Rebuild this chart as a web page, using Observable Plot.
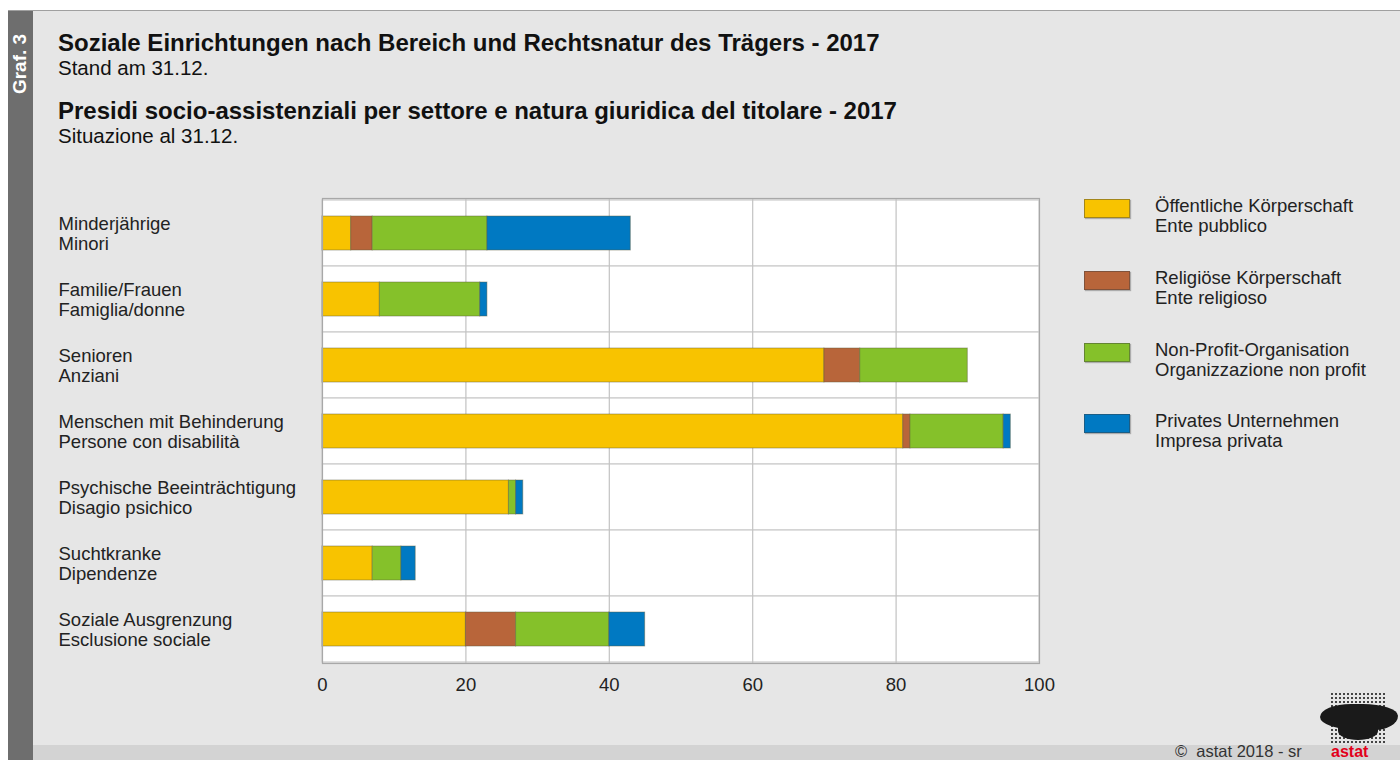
<!DOCTYPE html>
<html>
<head>
<meta charset="utf-8">
<script src="https://cdn.jsdelivr.net/npm/d3@7"></script>
<script src="https://cdn.jsdelivr.net/npm/@observablehq/plot@0.6"></script>
<style>
  html, body { margin: 0; padding: 0; }
  body { width: 1400px; height: 760px; overflow: hidden; background: #ffffff; font-family: "Liberation Sans", Arial, sans-serif; }
  #page { position: absolute; left: 0; top: 0; width: 1400px; height: 760px; }
  #bg { position: absolute; left: 8px; top: 10px; width: 1392px; height: 750px; background: #e6e6e6; border-top: 1px solid #a0a0a0; box-sizing: border-box; }
  #strip { position: absolute; left: 8px; top: 11px; width: 25px; height: 749px; background: #6e6e6e; }
  #graf { position: absolute; left: 20px; top: 64px; transform: translate(-50%, -50%) rotate(-90deg); color: #ffffff; font-weight: bold; font-size: 19px; white-space: nowrap; }
  .t { position: absolute; left: 58px; color: #111; white-space: nowrap; }
  .tb { font-weight: bold; font-size: 24px; line-height: 26px; }
  .ts { font-size: 20.5px; line-height: 22px; }
  #chart { position: absolute; left: 0; top: 170px; }
  .leg { position: absolute; left: 1084px; }
  .sw { position: absolute; left: 0; top: 0; width: 46px; height: 19px; box-sizing: border-box; border: 1px solid rgba(60,60,60,0.45); box-shadow: 1px 1px 1px rgba(0,0,0,0.25); }
  .lt { position: absolute; left: 71px; top: -3px; font-size: 18.5px; line-height: 20px; color: #222; white-space: nowrap; }
  #footer { position: absolute; left: 33px; top: 745px; width: 1367px; height: 15px; background: #d3d3d3; }
  #copy { position: absolute; left: 1175px; top: 743px; font-size: 16.5px; line-height: 17px; color: #333; white-space: nowrap; }
  #astat { position: absolute; left: 1331px; top: 743px; font-size: 16px; line-height: 17px; font-weight: bold; color: #e2001a; }
  #logo { position: absolute; left: 1330px; top: 692px; width: 56px; height: 52px;
          background-image: radial-gradient(circle, #444 1px, transparent 1.3px); background-size: 4px 4px; }
  #blob { position: absolute; left: 1320px; top: 704px; width: 78px; height: 26px; background: #1a1a1a;
          border-radius: 40% 45% 30% 50% / 50% 45% 55% 50%; }
  #blob2 { position: absolute; left: 1338px; top: 722px; width: 40px; height: 18px; background: #1a1a1a; border-radius: 0 0 50% 50%; }
</style>
</head>
<body>
<div id="page">
  <div id="bg"></div>
  <div id="strip"></div>
  <div id="graf">Graf. 3</div>
  <div class="t tb" style="top:30px">Soziale Einrichtungen nach Bereich und Rechtsnatur des Trägers - 2017</div>
  <div class="t ts" style="top:57px">Stand am 31.12.</div>
  <div class="t tb" style="top:98px">Presidi socio-assistenziali per settore e natura giuridica del titolare - 2017</div>
  <div class="t ts" style="top:125px">Situazione al 31.12.</div>
  <div id="chart"></div>
  <div id="legend"></div>
  <div id="footer"></div>
  <div id="logo"></div>
  <div id="blob"></div>
  <div id="blob2"></div>
  <div id="copy">©&nbsp; astat 2018 - sr</div>
  <div id="astat">astat</div>
</div>
<script>
// ---- data ----
const categories = [
  "Minderjährige\nMinori",
  "Familie/Frauen\nFamiglia/donne",
  "Senioren\nAnziani",
  "Menschen mit Behinderung\nPersone con disabilità",
  "Psychische Beeinträchtigung\nDisagio psichico",
  "Suchtkranke\nDipendenze",
  "Soziale Ausgrenzung\nEsclusione sociale"
];
const traeger = [
  "Öffentliche Körperschaft\nEnte pubblico",
  "Religiöse Körperschaft\nEnte religioso",
  "Non-Profit-Organisation\nOrganizzazione non profit",
  "Privates Unternehmen\nImpresa privata"
];
const oeffentlich = [4, 8, 70, 81, 26, 7, 20];
const religioes   = [3, 0, 5, 1, 0, 0, 7];
const nonprofit   = [16, 14, 15, 13, 1, 4, 13];
const privat      = [20, 1, 0, 1, 1, 2, 5];
const xTicks = [0, 20, 40, 60, 80, 100];
const colors = ["#f8c300", "#b8653a", "#85c12a", "#0079c2"];

const series = [oeffentlich, religioes, nonprofit, privat];
const rows = [];
categories.forEach((c, i) => {
  series.forEach((s, j) => {
    if (s[i] > 0) rows.push({category: c, traeger: traeger[j], value: s[i]});
  });
});

const xMin = xTicks[0], xMax = xTicks[xTicks.length - 1];

const chart = Plot.plot({
  width: 1400,
  height: 540,
  marginLeft: 322,
  marginRight: 361,
  marginTop: 28,
  marginBottom: 47,
  style: {background: "transparent", fontFamily: "'Liberation Sans', Arial, sans-serif", fontSize: "18.5px", color: "#222"},
  x: {domain: [xMin, xMax], ticks: xTicks, label: null},
  y: {domain: categories, padding: 0, axis: null, label: null},
  color: {domain: traeger, range: colors},
  marks: [
    Plot.barX(categories, {x1: () => xMin, x2: () => xMax, y: d => d, fill: "white", stroke: "#cccccc", strokeWidth: 1.2}),
    Plot.gridX({ticks: xTicks.slice(1, -1), stroke: "#c2c2c2", strokeOpacity: 1, strokeWidth: 1.2}),
    Plot.barX(rows, Plot.stackX({x: "value", y: "category", fill: "traeger", insetTop: 16, insetBottom: 16, stroke: "#5a5a3a", strokeOpacity: 0.45, strokeWidth: 1})),
    Plot.frame({stroke: "#a8a8a8", strokeWidth: 1.2}),
    Plot.axisX({ticks: xTicks, tickSize: 0, tickPadding: 14, fontSize: 18.5, fill: "#222", label: null}),
    Plot.text(categories, {y: d => d, frameAnchor: "left", textAnchor: "start", dx: -264, fontSize: 18.5, lineHeight: 1.09, fill: "#222"})
  ]
});
document.getElementById("chart").appendChild(chart);

// ---- legend ----
const legend = document.getElementById("legend");
const legendTops = [199, 271, 343, 414];
traeger.forEach((t, i) => {
  const item = document.createElement("div");
  item.className = "leg";
  item.style.top = legendTops[i] + "px";
  const sw = document.createElement("div");
  sw.className = "sw";
  sw.style.background = colors[i];
  const lt = document.createElement("div");
  lt.className = "lt";
  lt.innerHTML = t.split("\n").join("<br>");
  item.appendChild(sw);
  item.appendChild(lt);
  legend.appendChild(item);
});
</script>
</body>
</html>
